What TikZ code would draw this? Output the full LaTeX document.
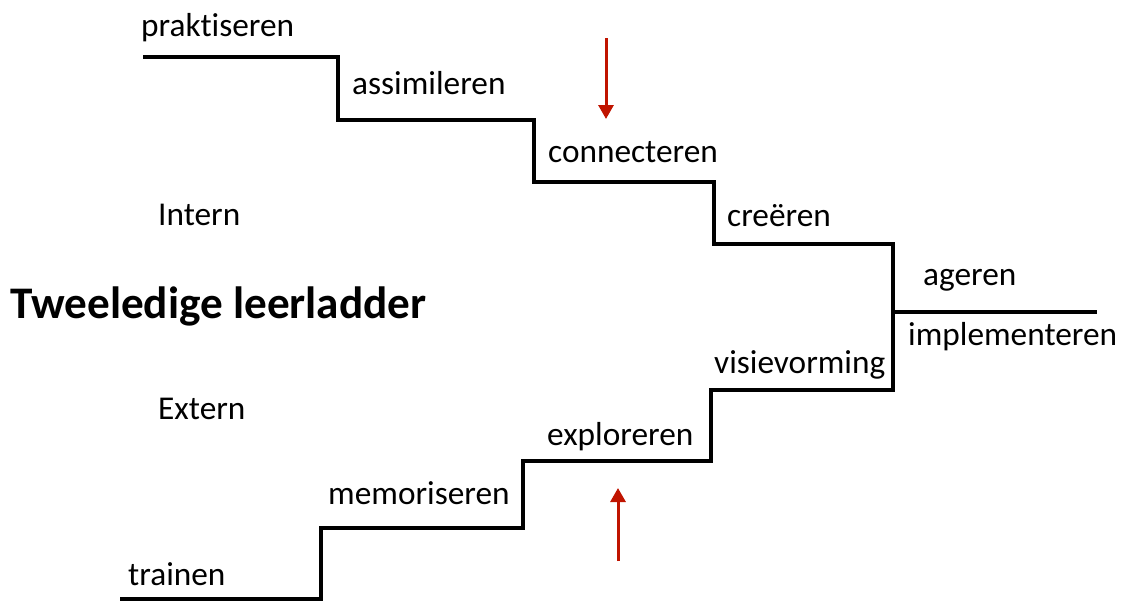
\documentclass[tikz,border=0pt]{standalone}
\usepackage{fontspec}
\setmainfont{Carlito}[Ligatures=NoCommon]
\usetikzlibrary{arrows.meta}
\definecolor{arrowred}{RGB}{192,20,0}
\tikzset{
  lbl/.style={anchor=base west, inner sep=0pt, font=\fontsize{33.3}{36}\selectfont},
  ttl/.style={anchor=base west, inner sep=0pt, font=\fontsize{45.2}{48}\selectfont\bfseries},
  stair/.style={line width=4pt, line join=miter, line cap=butt},
  redarrow/.style={draw=arrowred, line width=3pt, -{Triangle[length=14pt,width=15pt]}}
}
\begin{document}
\begin{tikzpicture}[x=1pt,y=-1pt]
\useasboundingbox (0,0) rectangle (1121,603);
% staircases
\draw[stair] (143,57) -- (338,57) -- (338,120) -- (534,120) -- (534,182) -- (714,182) -- (714,244) -- (893,244) -- (893,312) -- (1097,312);
\draw[stair] (120,599) -- (321,599) -- (321,528) -- (523,528) -- (523,461) -- (711,461) -- (711,390) -- (893,390) -- (893,312);
% arrows
\coordinate (d1) at (606,38);
\coordinate (d2) at (606,119);
\coordinate (u1) at (618,561);
\coordinate (u2) at (618,488);
\draw[redarrow] (d1) -- (d2);
\draw[redarrow] (u1) -- (u2);
% labels
\node[lbl] (prak) at (141,36) {praktiseren};
\node[lbl] (assi) at (352,94) {assimileren};
\node[lbl] (conn) at (548,162) {connecteren};
\node[lbl] (crea) at (727,226) {creëren};
\node[lbl] (ager) at (923,285) {ageren};
\node[lbl] (impl) at (908,345) {implementeren};
\node[lbl] (visi) at (714,373) {visievorming};
\node[lbl] (expl) at (547,445) {exploreren};
\node[lbl] (memo) at (328,504) {memoriseren};
\node[lbl] (trai) at (128,585) {trainen};
\node[lbl] (intern) at (158,225) {Intern};
\node[lbl] (extern) at (158,419) {Extern};
\node[ttl] (title) at (10,318) {Tweeledige leerladder};
\end{tikzpicture}
\end{document}
